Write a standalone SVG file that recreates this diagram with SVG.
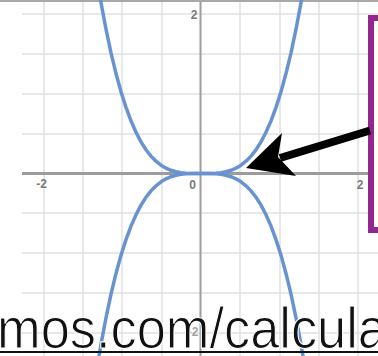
<svg xmlns="http://www.w3.org/2000/svg" xmlns:xlink="http://www.w3.org/1999/xlink" width="378" height="356" viewBox="0 0 378 356">
<style>
.grid{stroke:#e1e1e1;stroke-width:1.5;fill:none}
.axis{stroke:#9c9c9c;fill:none}
.lbl{font-family:"Liberation Sans",Arial,sans-serif;font-size:12px;font-weight:bold;fill:#7a7a7a;text-anchor:middle}
.curve{fill:none;stroke:#6893d0;stroke-width:3.5;stroke-linejoin:round;stroke-linecap:round}
.big{font-family:"Liberation Sans",Arial,sans-serif;font-size:57px;fill:#111;stroke:#ffffff;stroke-width:1.1}
</style>
<defs>
<path id="up" d="M96,-27.2 L101,2.6 L106,29.2 L111,52.8 L116,73.55 L121,91.67 L126,107.36 L131,120.83 L136,132.26 L141,141.83 L146,149.74 L151,156.14 L156,161.24 L161,165.19 L166,168.15 L171,170.28 L176,171.74 L181,172.66 L186,173.17 L191,173.41 L201,173.5 L211,173.41 L216,173.17 L221,172.66 L226,171.74 L231,170.28 L236,168.15 L241,165.19 L246,161.24 L251,156.14 L256,149.74 L261,141.83 L266,132.26 L271,120.83 L276,107.36 L281,91.67 L286,73.55 L291,52.8 L296,29.2 L301,2.6 L306,-27.2"/>
</defs>
<rect width="378" height="356" fill="#ffffff"/>
<g id="graph">
<g class="grid">
<path d="M44,2V356M83,2V356M122,2V356M162,2V356M240,2V356M280,2V356M319,2V356M358,2V356"/>
<path d="M22,14H378M22,54H378M22,94H378M22,134H378M22,213H378M22,253H378M22,293H378M22,333H378"/>
</g>
<line x1="0" y1="1" x2="378" y2="1" stroke="#a8a8a8" stroke-width="2"/>
<line class="axis" x1="200.5" y1="2" x2="200.5" y2="356" stroke-width="2"/>
<line class="axis" x1="22" y1="173.5" x2="378" y2="173.5" stroke-width="3" stroke="#a6a6a6"/>
<text class="lbl" x="41.5" y="188">-2</text>
<text class="lbl" x="192.5" y="189">0</text>
<text class="lbl" x="360" y="189">2</text>
<text class="lbl" x="194" y="19">2</text>
<text class="lbl" x="193" y="336" fill-opacity="0.7">-2</text>
<use xlink:href="#up" class="curve"/>
<use xlink:href="#up" class="curve" transform="translate(0,347) scale(1,-1)"/>
</g>
<g id="callout">
<rect x="371" y="18" width="30" height="212" fill="#ffffff" stroke="#93278f" stroke-width="6"/>
</g>
<g id="connectors">
<line x1="370" y1="130.5" x2="280" y2="158" stroke="#000" stroke-width="8"/>
<polygon points="246,168 282,133 278,157 296,176" fill="#000"/>
</g>
<g id="link">
<text class="big" x="-3" y="348" textLength="390" lengthAdjust="spacingAndGlyphs">mos.com/calcula</text>
<line x1="0" y1="352" x2="378" y2="352" stroke="#111" stroke-width="2"/>
</g>
</svg>
